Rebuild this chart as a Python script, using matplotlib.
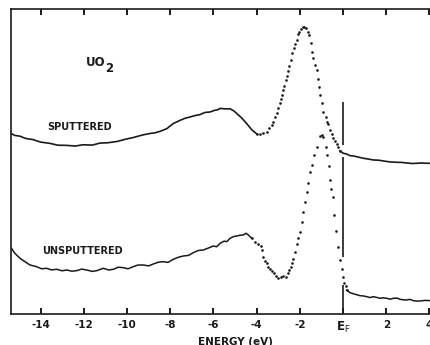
#!/usr/bin/env python3
# uo2_spectra.py

import matplotlib
matplotlib.use("Agg")
import matplotlib.pyplot as plt

# energy (eV) and intensity (arb. units)

# sputtered: continuous trace left of the valence peak
sput_line_x = [-15.38, -15.2, -14.95, -14.7, -14.35, -14.0, -13.56, -13.2, -12.78, -12.4,
               -12.04, -11.6, -11.25, -10.9, -10.46, -10.1, -9.72, -9.3, -8.94, -8.7,
               -8.47, -8.15, -7.87, -7.55, -7.3, -7.08, -6.85, -6.62, -6.4, -6.16,
               -5.95, -5.79, -5.69, -5.45, -5.23, -5.05, -4.92, -4.69, -4.46, -4.23, -4.0]
sput_line_y = [180.7, 178.6, 177.8, 175.6, 174.4, 171.9, 170.6, 168.8, 168.6, 167.9,
               169.2, 168.9, 170.9, 171.2, 172.5, 174.6, 176.4, 178.9, 180.5, 181.2,
               182.6, 185.4, 190.3, 193.6, 195.8, 197.0, 198.4, 199.4, 201.5, 202.0,
               203.6, 204.3, 205.6, 205.1, 205.2, 203.0, 200.5, 196.0, 190.4, 184.3, 180.2]

# sputtered: dotted points through the peak
sput_dot_x = [-4.0, -3.84, -3.69, -3.53, -3.41, -3.30, -3.23, -3.15, -3.07, -3.00,
              -2.92, -2.87, -2.82, -2.76, -2.72, -2.65, -2.61, -2.53, -2.49, -2.42,
              -2.36, -2.27, -2.21, -2.14, -2.08, -2.02, -1.96, -1.87, -1.79, -1.71,
              -1.63, -1.56, -1.50, -1.44, -1.38, -1.30, -1.22, -1.17, -1.11, -1.06,
              -0.99, -0.91, -0.81, -0.75, -0.68, -0.60, -0.52, -0.45, -0.37, -0.29,
              -0.22, -0.14]
sput_dot_y = [180.0, 179.7, 180.7, 182.3, 185.7, 189.0, 192.3, 196.7, 200.7, 205.7,
              210.7, 214.7, 219.0, 224.0, 228.0, 234.0, 238.0, 243.0, 248.0, 254.0,
              260.7, 265.7, 270.0, 274.0, 279.7, 282.3, 284.7, 286.7, 287.3, 285.7,
              282.3, 279.0, 270.7, 262.3, 255.7, 249.0, 244.0, 234.7, 226.7, 219.0,
              210.7, 202.3, 197.3, 192.3, 189.7, 184.0, 180.0, 176.3, 173.3, 170.0,
              166.7, 163.3]

# sputtered: tail above E_F
sput_tail_x = [-0.14, 0.01, 0.17, 0.32, 0.48, 0.63, 0.94, 1.1, 1.4, 1.65, 1.87,
               2.2, 2.49, 2.7, 2.95, 3.2, 3.41, 3.65, 3.88, 4.07]
sput_tail_y = [163.3, 160.7, 160.0, 158.3, 158.0, 157.3, 155.7, 155.2, 154.0, 153.8, 153.0,
               152.0, 151.7, 151.6, 151.0, 150.5, 150.7, 151.0, 150.7, 150.7]

# unsputtered: continuous trace
unsp_line_x = [-15.38, -15.19, -14.95, -14.72, -14.49, -14.18, -13.95, -13.72, -13.5, -13.25,
               -13.0, -12.79, -12.55, -12.33, -12.1, -11.87, -11.6, -11.4, -11.1, -10.85,
               -10.63, -10.4, -10.17, -9.95, -9.71, -9.5, -9.25, -9.0, -8.78, -8.55,
               -8.32, -8.1, -7.86, -7.6, -7.39, -7.15, -6.93, -6.7, -6.47, -6.25,
               -6.0, -5.85, -5.69, -5.5, -5.38, -5.23, -5.08, -4.92, -4.77, -4.62,
               -4.49, -4.38, -4.23]
unsp_line_y = [66.7, 60.7, 55.7, 52.3, 49.0, 47.3, 45.2, 45.7, 44.1, 44.7,
               43.2, 44.0, 42.8, 43.3, 44.9, 44.0, 42.6, 43.3, 45.7, 44.0,
               44.7, 46.8, 46.3, 45.2, 47.3, 48.9, 49.0, 48.1, 50.0, 51.8,
               52.3, 51.6, 54.7, 56.9, 58.0, 58.6, 61.3, 63.5, 64.0, 65.8,
               68.0, 67.2, 70.7, 72.9, 72.3, 75.7, 77.3, 78.0, 78.7, 79.0,
               80.7, 79.0, 75.7]

# unsputtered: dotted points through the dip and peak
unsp_dot_x = [-4.23, -4.07, -3.92, -3.81, -3.76, -3.69, -3.61, -3.53, -3.46, -3.38,
              -3.30, -3.19, -3.10, -3.00, -2.88, -2.76, -2.65, -2.56, -2.50, -2.42,
              -2.38, -2.30, -2.21, -2.12, -2.07, -1.99, -1.91, -1.84, -1.76, -1.68,
              -1.61, -1.53, -1.45, -1.34, -1.22, -1.06, -0.99, -0.91, -0.79, -0.73,
              -0.66, -0.60, -0.54, -0.48, -0.40, -0.31, -0.22, -0.14, -0.06, 0.01,
              0.05, 0.12, 0.17]
unsp_dot_y = [75.7, 72.3, 70.0, 68.0, 64.0, 57.3, 53.3, 50.7, 47.3, 45.0,
              43.0, 40.7, 38.0, 35.7, 37.3, 38.0, 37.3, 41.3, 44.0, 46.7,
              50.7, 54.7, 62.3, 70.0, 75.7, 82.3, 92.3, 102.3, 112.3, 122.3,
              131.3, 142.3, 149.0, 159.0, 167.3, 178.0, 179.0, 177.3, 167.3, 159.0,
              148.3, 134.0, 125.0, 116.7, 99.0, 83.0, 67.3, 54.0, 44.7, 37.3,
              30.7, 27.5, 24.0]

# unsputtered: tail above E_F
unsp_tail_x = [0.17, 0.32, 0.56, 0.79, 0.95, 1.1, 1.25, 1.4, 1.55, 1.71, 1.85, 2.02,
               2.18, 2.33, 2.5, 2.64, 2.8, 2.95, 3.1, 3.25, 3.4, 3.56, 3.8, 4.03]
unsp_tail_y = [24.0, 21.3, 19.7, 18.3, 18.0, 17.3, 16.4, 17.3, 16.6, 15.7, 16.2, 15.7,
               14.8, 15.7, 15.9, 14.7, 14.1, 14.0, 14.6, 13.3, 12.9, 13.0, 13.6, 13.3]

# Fermi-level marker, drawn in three pieces
ef_lo = [169, 57, 0]
ef_hi = [212, 157, 29]

tick_pos = [-14, -12, -10, -8, -6, -4, -2, 0, 2, 4]
tick_lab = ["-14", "-12", "-10", "-8", "-6", "-4", "-2", "E$_\\mathsf{F}$", "2", "4"]

INK = "#1a1a1a"


def plot_spectra(ax):
    ax.plot(sput_line_x, sput_line_y, color=INK, lw=1.2)
    ax.plot(sput_dot_x, sput_dot_y, ls="none", marker="o", ms=1.9, color=INK, mew=0)
    ax.plot(sput_tail_x, sput_tail_y, color=INK, lw=1.2)

    ax.plot(unsp_line_x, unsp_line_y, color=INK, lw=1.1)
    ax.plot(unsp_dot_x, unsp_dot_y, ls="none", marker="o", ms=1.9, color=INK, mew=0)
    ax.plot(unsp_tail_x, unsp_tail_y, color=INK, lw=1.1)

    ax.vlines([0, 0, 0], ef_lo, ef_hi, color=INK, lw=1.2)


def label_axes(ax):
    ax.set_xlim(-15.39, 4.07)
    ax.set_ylim(0, 304.5)
    ax.set_xticks(tick_pos)
    ax.set_xticklabels(tick_lab)
    ax.set_yticks([])
    ax.tick_params(axis="x", which="major", direction="in", length=4, width=1.4,
                   color=INK, bottom=True, top=True, labelsize=7.5, pad=4.5,
                   labelcolor=INK)
    for lab in ax.get_xticklabels():
        lab.set_fontweight("bold")
    ax.get_xticklabels()[7].set_fontsize(8.5)
    for side in ("left", "top", "bottom"):
        ax.spines[side].set_linewidth(1.2)
        ax.spines[side].set_color(INK)
    ax.spines["right"].set_visible(False)

    ax.set_xlabel("ENERGY (eV)", fontsize=7.5, fontweight="bold", color=INK)
    ax.xaxis.set_label_coords(0.534, -0.092)
    ax.xaxis.label.set_verticalalignment("center")

    ax.text(-11.45, 251, "UO", fontsize=8.5, fontweight="bold", color=INK,
            ha="center", va="center")
    ax.text(-10.83, 245.5, "2", fontsize=8.5, fontweight="bold", color=INK,
            ha="center", va="center")
    ax.text(-12.18, 187, "SPUTTERED", fontsize=7, fontweight="bold", color=INK,
            ha="center", va="center")
    ax.text(-12.04, 63, "UNSPUTTERED", fontsize=7, fontweight="bold", color=INK,
            ha="center", va="center")


def main():
    plt.rcParams["axes.unicode_minus"] = False
    plt.rcParams["mathtext.fontset"] = "dejavusans"
    fig = plt.figure(figsize=(4.31, 3.45), dpi=100)
    ax = fig.add_axes([0.0244, 0.0899, 0.9756, 0.8826])
    plot_spectra(ax)
    label_axes(ax)
    fig.savefig("out.png", dpi=100)


if __name__ == "__main__":
    main()
